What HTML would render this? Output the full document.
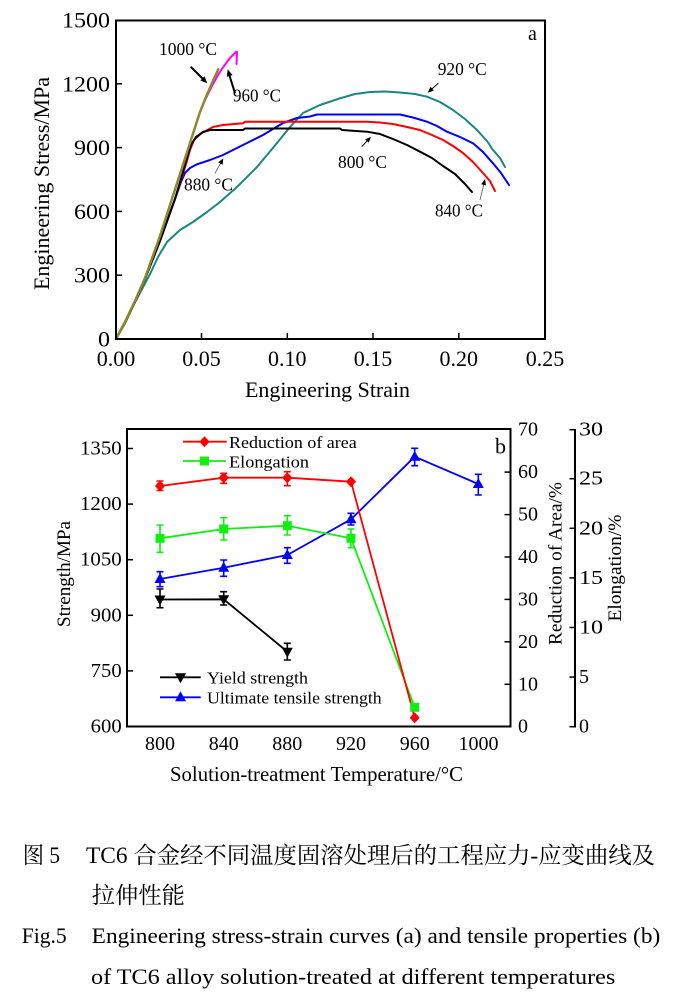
<!DOCTYPE html>
<html><head><meta charset="utf-8"><style>
html,body{margin:0;padding:0;background:#fff;}
svg{display:block;}
text{font-family:"Liberation Serif","Noto Serif CJK SC",serif;fill:#000;}
</style></head><body>
<svg width="677" height="1001" viewBox="0 0 677 1001" xmlns="http://www.w3.org/2000/svg">
<rect width="677" height="1001" fill="#fff"/>
<!-- ============ CHART A ============ -->
<g fill="none" stroke-linejoin="round" stroke-linecap="round">
<polyline stroke="#17877f" stroke-width="2" points="116,339 125,322 133,306 141,291 150,274 158,257 167,242 180,230 193,222 207,212 220,202 237,187 257,167 277,143 290,127 303,113 320,105 340,98.3 355,94 370,92 385,91.5 400,92.5 415,94 427,96.7 440,102 453,110 465,119 477,130 487,141 493,150 500,158 505,167"/>
<polyline stroke="#0000ff" stroke-width="2" points="116,339 125,322 135,301 145,278 160,240 175,199 181,182 185,173 190,168 197,164.3 210,160 223,155 243,145 263,135 283,123 297,118 310,116.5 317,114.5 400,114.5 413,117.5 427,121.7 437,126 447,131.7 460,137 473,143.3 483,152 493,163.3 501,173 509,185"/>
<polyline stroke="#ff0000" stroke-width="2" points="116,339 125,323 135,302 145,279 160,241 175,199 183,174 187,161 190,150 194,140 201,133.5 213,127 223,125 243,123.3 245,121.7 367,121.7 380,122.5 393,124 407,127 420,130 432,135 443,140 453,146 463,153 473,162 483,173 490,181 495,191"/>
<polyline stroke="#000000" stroke-width="2" points="116,339 125,323 135,302 145,279 160,241 175,199 183,172 187,158 191,145 196,137 203,132 210,130 243,130 245,128.5 340,128.5 342,130 367,131.7 380,134 393,139 407,145 420,151.7 432,158 443,166 455,174 465,184 472,192"/>
<polyline stroke="#ff00ff" stroke-width="2" points="116,339 125,322 135,301 145,278 160,236 180,174 190,143 200,112 206,98 212,86 218,75 224,66 230,58 236,52 237,52 236.5,64"/>
<polyline stroke="#8b8b2e" stroke-width="2.5" points="116,339 125,322 135,301 145,278 160,236 180,174 190,143 200,112 206,97 212,83 218.3,69.3"/>
</g>
<!-- axes box a -->
<rect x="116" y="20.5" width="429" height="318.5" fill="none" stroke="#000" stroke-width="2"/>
<g stroke="#000" stroke-width="1.5">
<line x1="116" y1="275.2" x2="122" y2="275.2"/>
<line x1="116" y1="211.4" x2="122" y2="211.4"/>
<line x1="116" y1="147.6" x2="122" y2="147.6"/>
<line x1="116" y1="83.8" x2="122" y2="83.8"/>
<line x1="201.5" y1="339" x2="201.5" y2="333"/>
<line x1="287.3" y1="339" x2="287.3" y2="333"/>
<line x1="373" y1="339" x2="373" y2="333"/>
<line x1="458.8" y1="339" x2="458.8" y2="333"/>
</g>
<g font-size="22" text-anchor="end">
<text x="110" y="27.5" textLength="48" lengthAdjust="spacingAndGlyphs">1500</text>
<text x="110" y="91.3" textLength="48" lengthAdjust="spacingAndGlyphs">1200</text>
<text x="110" y="155.1" textLength="36" lengthAdjust="spacingAndGlyphs">900</text>
<text x="110" y="218.9" textLength="36" lengthAdjust="spacingAndGlyphs">600</text>
<text x="110" y="282.7" textLength="36" lengthAdjust="spacingAndGlyphs">300</text>
<text x="110" y="346.5" textLength="12" lengthAdjust="spacingAndGlyphs">0</text>
</g>
<g font-size="22" text-anchor="middle">
<text x="116" y="366">0.00</text>
<text x="201.5" y="366">0.05</text>
<text x="287.3" y="366">0.10</text>
<text x="373" y="366">0.15</text>
<text x="458.8" y="366">0.20</text>
<text x="545" y="366">0.25</text>
</g>
<text x="245" y="397" font-size="22" textLength="165" lengthAdjust="spacingAndGlyphs">Engineering Strain</text>
<text transform="translate(49,183.5) rotate(-90)" x="0" y="0" font-size="22" text-anchor="middle" textLength="213" lengthAdjust="spacingAndGlyphs">Engineering Stress/MPa</text>
<text x="528" y="40" font-size="20">a</text>
<!-- annotations -->
<g font-size="18">
<text x="159" y="55" textLength="58" lengthAdjust="spacingAndGlyphs">1000 °C</text>
<text x="233" y="101.7" textLength="48" lengthAdjust="spacingAndGlyphs">960 °C</text>
<text x="184" y="190.7" textLength="49" lengthAdjust="spacingAndGlyphs">880 °C</text>
<text x="437.7" y="75" textLength="49" lengthAdjust="spacingAndGlyphs">920 °C</text>
<text x="338" y="168" textLength="49" lengthAdjust="spacingAndGlyphs">800 °C</text>
<text x="435" y="216.7" textLength="48" lengthAdjust="spacingAndGlyphs">840 °C</text>
</g>
<g stroke="#000" fill="#000">
<line x1="190.7" y1="66.7" x2="203" y2="79" stroke-width="2"/>
<polygon points="207.3,83.3 200.3,80.5 204.5,76.3" stroke="none"/>
<line x1="235" y1="93.3" x2="229" y2="74" stroke-width="2"/>
<polygon points="227.7,69.3 232.6,75.1 226.8,76.9" stroke="none"/>
<line x1="215" y1="173.3" x2="221" y2="162.5" stroke-width="0.8" stroke="#555"/>
<polygon points="223.3,158.3 222.6,164.8 218.2,162.4" stroke="none"/>
<line x1="438.3" y1="83.3" x2="431" y2="89.7" stroke-width="1"/>
<polygon points="427.7,92.7 433.9,90.6 430.5,86.8" stroke="none"/>
<line x1="361.7" y1="146.7" x2="368" y2="140" stroke-width="1"/>
<polygon points="371,136.7 368.7,142.8 365.1,139.4" stroke="none"/>
<line x1="480" y1="200" x2="484" y2="183.5" stroke-width="0.8" stroke="#555"/>
<polygon points="485,179 486,185.4 481.2,184.2" stroke="none"/>
</g>

<!-- ============ CHART B ============ -->
<rect x="127" y="429" width="383.5" height="297.5" fill="none" stroke="#000" stroke-width="2"/>
<g stroke="#000" stroke-width="1.5">
<line x1="127" y1="670.9" x2="133" y2="670.9"/>
<line x1="127" y1="615.3" x2="133" y2="615.3"/>
<line x1="127" y1="559.7" x2="133" y2="559.7"/>
<line x1="127" y1="504.1" x2="133" y2="504.1"/>
<line x1="127" y1="448.5" x2="133" y2="448.5"/>
<line x1="504.5" y1="684.3" x2="510.5" y2="684.3"/>
<line x1="504.5" y1="641.8" x2="510.5" y2="641.8"/>
<line x1="504.5" y1="599.4" x2="510.5" y2="599.4"/>
<line x1="504.5" y1="557" x2="510.5" y2="557"/>
<line x1="504.5" y1="514.6" x2="510.5" y2="514.6"/>
<line x1="504.5" y1="472.1" x2="510.5" y2="472.1"/>
<line x1="575" y1="429" x2="575" y2="727.5" stroke-width="2"/>
<line x1="569.5" y1="726.7" x2="575" y2="726.7"/>
<line x1="569.5" y1="677.1" x2="575" y2="677.1"/>
<line x1="569.5" y1="627.5" x2="575" y2="627.5"/>
<line x1="569.5" y1="577.9" x2="575" y2="577.9"/>
<line x1="569.5" y1="528.3" x2="575" y2="528.3"/>
<line x1="569.5" y1="478.7" x2="575" y2="478.7"/>
<line x1="569.5" y1="429.7" x2="575" y2="429.7"/>
</g>
<g font-size="20" text-anchor="end">
<text x="121.7" y="454.5" textLength="41.7" lengthAdjust="spacingAndGlyphs">1350</text>
<text x="121.7" y="510.1" textLength="41.7" lengthAdjust="spacingAndGlyphs">1200</text>
<text x="121.7" y="565.7" textLength="41.7" lengthAdjust="spacingAndGlyphs">1050</text>
<text x="121.7" y="621.3" textLength="31" lengthAdjust="spacingAndGlyphs">900</text>
<text x="121.7" y="676.9" textLength="31" lengthAdjust="spacingAndGlyphs">750</text>
<text x="121.7" y="732.5" textLength="31" lengthAdjust="spacingAndGlyphs">600</text>
</g>
<g font-size="20" text-anchor="middle">
<text x="160" y="750">800</text>
<text x="223.7" y="750">840</text>
<text x="287.3" y="750">880</text>
<text x="351" y="750">920</text>
<text x="414.7" y="750">960</text>
<text x="478.5" y="750">1000</text>
</g>
<g font-size="20">
<text x="518" y="435.7">70</text>
<text x="518" y="478.1">60</text>
<text x="518" y="520.6">50</text>
<text x="518" y="563">40</text>
<text x="518" y="605.4">30</text>
<text x="518" y="647.8">20</text>
<text x="518" y="690.3">10</text>
<text x="518" y="732.7">0</text>
<text x="579" y="435.7" textLength="24" lengthAdjust="spacingAndGlyphs">30</text>
<text x="579" y="484.7" textLength="24" lengthAdjust="spacingAndGlyphs">25</text>
<text x="579" y="534.3" textLength="24" lengthAdjust="spacingAndGlyphs">20</text>
<text x="579" y="583.9" textLength="24" lengthAdjust="spacingAndGlyphs">15</text>
<text x="579" y="633.5" textLength="24" lengthAdjust="spacingAndGlyphs">10</text>
<text x="579" y="683.1">5</text>
<text x="579" y="732.7">0</text>
</g>
<text x="170" y="781" font-size="21" textLength="293" lengthAdjust="spacingAndGlyphs">Solution-treatment Temperature/°C</text>
<text transform="translate(70,574) rotate(-90)" font-size="19" text-anchor="middle" textLength="106" lengthAdjust="spacingAndGlyphs">Strength/MPa</text>
<text transform="translate(561.5,563.5) rotate(-90)" font-size="19" text-anchor="middle" textLength="163" lengthAdjust="spacingAndGlyphs">Reduction of Area/%</text>
<text transform="translate(621,568) rotate(-90)" font-size="19" text-anchor="middle" textLength="107" lengthAdjust="spacingAndGlyphs">Elongation/%</text>
<text x="495" y="453.3" font-size="22">b</text>

<g fill="none" stroke-width="1.8" stroke-linejoin="round">
<polyline stroke="#000" points="160,599.5 223.7,599.3 287.3,651.7"/>
<polyline stroke="#0000ff" points="160,579 223.7,567.7 287.3,555 351,519.3 414.7,456.7 478.3,484"/>
<polyline stroke="#11ee11" points="160,538.3 223.7,529 287.3,525.7 351,538.3 414.7,707.3"/>
<polyline stroke="#ff0000" points="160,486 223.7,477.7 287.3,477.7 351,481.7 414.7,717.7"/>
</g>
<g stroke-width="1.6" fill="none">
<path stroke="#000" d="M160,589V607.7M156.5,589H163.5M156.5,607.7H163.5 M223.7,591.7V605M220.2,591.7H227.2M220.2,605H227.2 M287.3,643.3V660M283.8,643.3H290.8M283.8,660H290.8"/>
<path stroke="#0000ff" d="M160,571.7V586.7M156.5,571.7H163.5M156.5,586.7H163.5 M223.7,560V576.3M220.2,560H227.2M220.2,576.3H227.2 M287.3,547.7V563.3M283.8,547.7H290.8M283.8,563.3H290.8 M351,513.3V525M347.5,513.3H354.5M347.5,525H354.5 M414.7,448.3V465.7M411.2,448.3H418.2M411.2,465.7H418.2 M478.3,474.3V495M474.8,474.3H481.8M474.8,495H481.8"/>
<path stroke="#11ee11" d="M160,525V552.3M156.5,525H163.5M156.5,552.3H163.5 M223.7,517.7V540M220.2,517.7H227.2M220.2,540H227.2 M287.3,515.7V535M283.8,515.7H290.8M283.8,535H290.8 M351,529V547.7M347.5,529H354.5M347.5,547.7H354.5"/>
<path stroke="#ff0000" d="M160,481V490.5M156.5,481H163.5M156.5,490.5H163.5 M223.7,473.3V483.3M220.2,473.3H227.2M220.2,483.3H227.2 M287.3,471.7V485.7M283.8,471.7H290.8M283.8,485.7H290.8"/>
</g>
<g fill="#000">
<polygon points="160,605.5 154.5,595.5 165.5,595.5"/>
<polygon points="223.7,605.3 218.2,595.3 229.2,595.3"/>
<polygon points="287.3,657.7 281.8,647.7 292.8,647.7"/>
</g>
<g fill="#0000ff">
<polygon points="160,573 154.5,583 165.5,583"/>
<polygon points="223.7,561.7 218.2,571.7 229.2,571.7"/>
<polygon points="287.3,549 281.8,559 292.8,559"/>
<polygon points="351,513.3 345.5,523.3 356.5,523.3"/>
<polygon points="414.7,450.7 409.2,460.7 420.2,460.7"/>
<polygon points="478.3,478 472.8,488 483.8,488"/>
</g>
<g fill="#11ee11">
<rect x="155.5" y="533.8" width="9" height="9"/>
<rect x="219.2" y="524.5" width="9" height="9"/>
<rect x="282.8" y="521.2" width="9" height="9"/>
<rect x="346.5" y="533.8" width="9" height="9"/>
<rect x="410.2" y="702.8" width="9" height="9"/>
</g>
<g fill="#ff0000">
<polygon points="160,480.5 165,486 160,491.5 155,486"/>
<polygon points="223.7,472.2 228.7,477.7 223.7,483.2 218.7,477.7"/>
<polygon points="287.3,472.2 292.3,477.7 287.3,483.2 282.3,477.7"/>
<polygon points="351,476.2 356,481.7 351,487.2 346,481.7"/>
<polygon points="414.7,712.2 419.7,717.7 414.7,723.2 409.7,717.7"/>
<circle cx="160" cy="486" r="3.8"/><circle cx="223.7" cy="477.7" r="3.8"/><circle cx="287.3" cy="477.7" r="3.8"/><circle cx="351" cy="481.7" r="3.8"/><circle cx="414.7" cy="717.7" r="3.8"/>
</g>
<line x1="183" y1="441.7" x2="226.7" y2="441.7" stroke="#ff0000" stroke-width="1.8"/>
<polygon points="204.5,436.2 209.5,441.7 204.5,447.2 199.5,441.7" fill="#ff0000"/>
<circle cx="204.5" cy="441.7" r="3.8" fill="#ff0000"/>
<line x1="183" y1="461" x2="226" y2="461" stroke="#11ee11" stroke-width="1.8"/>
<rect x="200" y="456.5" width="9" height="9" fill="#11ee11"/>
<line x1="160" y1="677.3" x2="200.7" y2="677.3" stroke="#000" stroke-width="1.8"/>
<polygon points="180.5,683.3 175,673.3 186,673.3" fill="#000"/>
<line x1="160" y1="697.3" x2="200.7" y2="697.3" stroke="#0000ff" stroke-width="1.8"/>
<polygon points="180.5,691.3 175,701.3 186,701.3" fill="#0000ff"/>
<g font-size="17">
<text x="229" y="448" textLength="127.7" lengthAdjust="spacingAndGlyphs">Reduction of area</text>
<text x="229" y="467.5" textLength="80" lengthAdjust="spacingAndGlyphs">Elongation</text>
<text x="207" y="683.3" textLength="101" lengthAdjust="spacingAndGlyphs">Yield strength</text>
<text x="207" y="703.3" textLength="174.7" lengthAdjust="spacingAndGlyphs">Ultimate tensile strength</text>
</g>

<!-- ============ CAPTION ============ -->
<g font-size="23" style="font-family:'Liberation Serif','Noto Serif CJK SC',serif">
<text x="22.7" y="863" textLength="37.3" lengthAdjust="spacingAndGlyphs">图 5</text>
<text x="86" y="863" textLength="569" lengthAdjust="spacingAndGlyphs">TC6 合金经不同温度固溶处理后的工程应力-应变曲线及</text>
<text x="91.7" y="903" textLength="93.3" lengthAdjust="spacingAndGlyphs">拉伸性能</text>
</g>
<g font-size="22">
<text x="21.7" y="943" textLength="45" lengthAdjust="spacingAndGlyphs">Fig.5</text>
<text x="91.7" y="943" textLength="568.6" lengthAdjust="spacingAndGlyphs">Engineering stress-strain curves (a) and tensile properties (b)</text>
<text x="91" y="984" textLength="524.3" lengthAdjust="spacingAndGlyphs">of TC6 alloy solution-treated at different temperatures</text>
</g>
</svg>
</body></html>
